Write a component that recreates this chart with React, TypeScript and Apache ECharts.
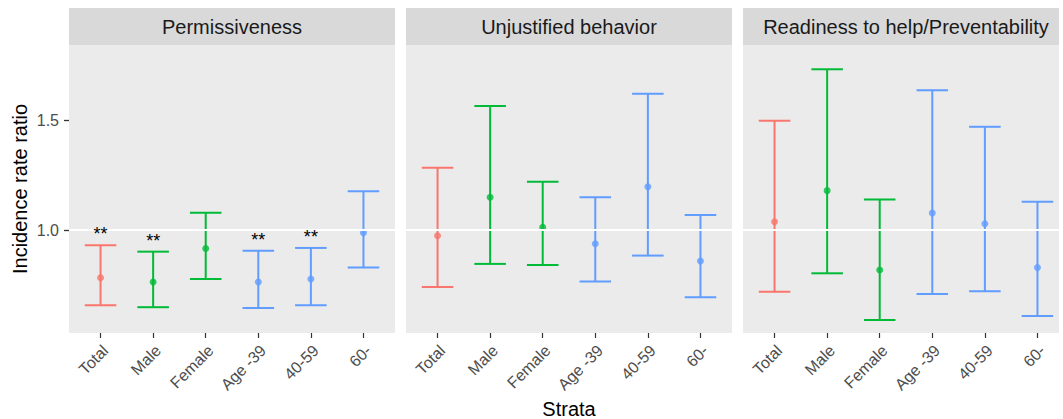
import React, { useEffect, useRef } from "react";
import * as echarts from "echarts";

const CATEGORIES = ["Total", "Male", "Female", "Age -39", "40-59", "60-"];
const GROUP = [0, 1, 1, 2, 2, 2];
const COLORS = ["#F8766D", "#00BA38", "#619CFF"];

const PANELS = ["Permissiveness", "Unjustified behavior", "Readiness to help/Preventability"];

const PERM_EST = [0.782, 0.762, 0.915, 0.762, 0.776, 0.988];
const PERM_LO = [0.656, 0.647, 0.776, 0.643, 0.656, 0.829];
const PERM_HI = [0.930, 0.901, 1.079, 0.905, 0.918, 1.177];
const PERM_SIG = ["**", "**", "", "**", "**", ""];

const UNJ_EST = [0.974, 1.150, 1.012, 0.937, 1.198, 0.858];
const UNJ_LO = [0.739, 0.845, 0.840, 0.765, 0.883, 0.692];
const UNJ_HI = [1.285, 1.567, 1.221, 1.150, 1.623, 1.069];
const UNJ_SIG = ["", "", "", "", "", ""];

const READY_EST = [1.038, 1.180, 0.817, 1.078, 1.029, 0.828];
const READY_LO = [0.718, 0.802, 0.588, 0.707, 0.720, 0.607];
const READY_HI = [1.500, 1.735, 1.139, 1.639, 1.472, 1.129];
const READY_SIG = ["", "", "", "", "", ""];

const Y_TICKS = [1.0, 1.5];
const REF_LINE = 1;
const Y_MIN = 0.529;
const Y_MAX = 1.846;
const X_MIN = -0.6;
const X_MAX = 5.6;

const FONT = "'Liberation Sans', Arial, Helvetica, sans-serif";
const CAP_WIDTH = 0.6;
const LW = 2;

export default function App() {
  const ref = useRef<HTMLDivElement>(null);
  useEffect(() => {
    if (!ref.current) return;
    const chart = echarts.init(ref.current, null, { renderer: "svg" });

    const panelData = [
      [PERM_EST, PERM_LO, PERM_HI, PERM_SIG],
      [UNJ_EST, UNJ_LO, UNJ_HI, UNJ_SIG],
      [READY_EST, READY_LO, READY_HI, READY_SIG],
    ] as [number[], number[], number[], string[]][];

    const panelLeft = [69, 406, 743];
    const panelWidth = 326;
    const top = 45;
    const bottom = 419 - 333;

    const grids: any[] = [];
    const xAxes: any[] = [];
    const yAxes: any[] = [];
    const series: any[] = [];
    const graphics: any[] = [];
    const idx = CATEGORIES.map((_, i) => i);

    panelData.forEach(([est, lo, hi, sig], p) => {
      grids.push({
        left: panelLeft[p],
        width: panelWidth,
        top,
        bottom,
        show: true,
        backgroundColor: "#EBEBEB",
        borderWidth: 0,
        outerBoundsMode: "none",
        containLabel: false,
      });
      xAxes.push({
        type: "value",
        gridIndex: p,
        position: "bottom",
        min: X_MIN,
        max: X_MAX,
        splitLine: { show: false },
        axisLine: { show: true, onZero: false, lineStyle: { color: "rgba(0,0,0,0)", width: 0 } },
        axisTick: {
          show: true,
          customValues: idx,
          length: 5,
          lineStyle: { color: "#333333", width: 1.2 },
        },
        axisLabel: {
          show: true,
          customValues: idx,
          formatter: (v: number) => CATEGORIES[Math.round(v)],
          rotate: 45,
          margin: 5,
          verticalAlign: "top",
          padding: [2.5, 3.5, 0, 0],
          color: "#4D4D4D",
          fontSize: 16,
          fontFamily: FONT,
        },
      });
      yAxes.push({
        type: "value",
        gridIndex: p,
        position: "left",
        min: Y_MIN,
        max: Y_MAX,
        splitLine: { show: false },
        axisLine: { show: true, onZero: false, lineStyle: { color: "rgba(0,0,0,0)", width: 0 } },
        axisTick: {
          show: p === 0,
          customValues: Y_TICKS,
          length: 5,
          lineStyle: { color: "#333333", width: 1.3 },
        },
        axisLabel: {
          show: p === 0,
          customValues: Y_TICKS,
          formatter: (v: number) => v.toFixed(1),
          margin: 10,
          color: "#4D4D4D",
          fontSize: 16,
          fontFamily: FONT,
        },
      });
      series.push({
        type: "line",
        xAxisIndex: p,
        yAxisIndex: p,
        data: [],
        z: 1,
        markLine: {
          silent: true,
          symbol: ["none", "none"],
          label: { show: false },
          lineStyle: { color: "#FFFFFF", width: 2.2, type: "solid" },
          data: [{ yAxis: REF_LINE }],
        },
      });
      series.push({
        type: "custom",
        xAxisIndex: p,
        yAxisIndex: p,
        z: 2,
        data: idx.map((i) => [i, lo[i], hi[i], GROUP[i]]),
        renderItem: (params: any, api: any) => {
          const x = api.value(0);
          const pLo = api.coord([x, api.value(1)]);
          const pHi = api.coord([x, api.value(2)]);
          const half = api.size([CAP_WIDTH, 0])[0] / 2;
          const color = COLORS[api.value(3)];
          const style = { stroke: color, lineWidth: LW };
          return {
            type: "group",
            children: [
              { type: "line", shape: { x1: pHi[0], y1: pHi[1], x2: pLo[0], y2: pLo[1] }, style },
              { type: "line", shape: { x1: pHi[0] - half, y1: pHi[1], x2: pHi[0] + half, y2: pHi[1] }, style },
              { type: "line", shape: { x1: pLo[0] - half, y1: pLo[1], x2: pLo[0] + half, y2: pLo[1] }, style },
            ],
          };
        },
      });
      series.push({
        type: "scatter",
        xAxisIndex: p,
        yAxisIndex: p,
        z: 3,
        symbol: "circle",
        symbolSize: 7,
        data: idx.map((i) => ({
          value: [i, est[i]],
          itemStyle: { color: COLORS[GROUP[i]] },
        })),
      });
      series.push({
        type: "custom",
        xAxisIndex: p,
        yAxisIndex: p,
        z: 5,
        data: idx.filter((i) => sig[i]).map((i) => [i, hi[i], i]),
        renderItem: (params: any, api: any) => {
          const pt = api.coord([api.value(0), api.value(1)]);
          return {
            type: "text",
            x: pt[0],
            y: pt[1] - 11,
            style: {
              text: sig[api.value(2)],
              fill: "#000000",
              fontSize: 18,
              fontFamily: FONT,
              align: "center",
              verticalAlign: "middle",
            },
          };
        },
      });

      graphics.push({
        type: "rect",
        shape: { x: panelLeft[p], y: 8, width: panelWidth, height: 37 },
        style: { fill: "#D9D9D9" },
        z: 10,
      });
      graphics.push({
        type: "text",
        x: panelLeft[p] + panelWidth / 2,
        y: 27,
        style: {
          text: PANELS[p],
          fill: "#1A1A1A",
          fontSize: 20,
          fontFamily: FONT,
          align: "center",
          verticalAlign: "middle",
        },
        z: 11,
      });
    });

    graphics.push({
      type: "rect",
      shape: { x: 1059, y: 0, width: 10, height: 340 },
      style: { fill: "#FFFFFF" },
      z: 12,
    });
    graphics.push({
      type: "text",
      x: 20,
      y: 189,
      rotation: Math.PI / 2,
      style: {
        text: "Incidence rate ratio",
        fill: "#000000",
        fontSize: 20,
        fontFamily: FONT,
        align: "center",
        verticalAlign: "middle",
      },
      z: 11,
    });
    graphics.push({
      type: "text",
      x: 569,
      y: 409,
      style: {
        text: "Strata",
        fill: "#000000",
        fontSize: 20,
        fontFamily: FONT,
        align: "center",
        verticalAlign: "middle",
      },
      z: 11,
    });

    chart.setOption({
      animation: false,
      backgroundColor: "#FFFFFF",
      grid: grids,
      xAxis: xAxes,
      yAxis: yAxes,
      series,
      graphic: graphics,
    });
    return () => chart.dispose();
  }, []);

  return (
    <div
      ref={ref}
      style={{ position: "fixed", left: 0, top: 0, width: 1063, height: 419 }}
    />
  );
}
